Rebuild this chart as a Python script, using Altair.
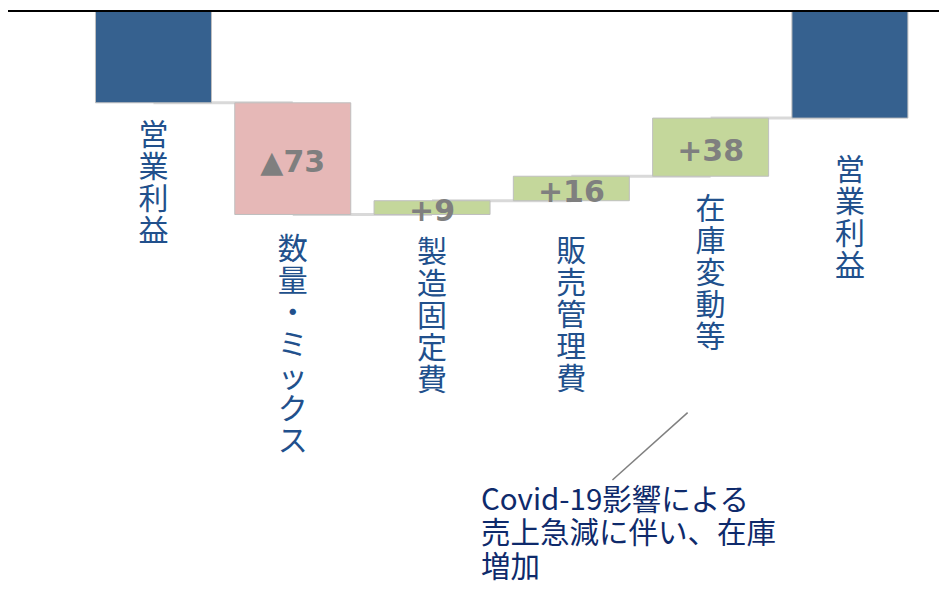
import altair as alt
import pandas as pd

# ---- data ----
categories = ["営業利益", "数量・ミックス", "製造固定費", "販売管理費", "在庫変動等", "営業利益"]
kinds = ["total", "delta", "delta", "delta", "delta", "total"]
values = [-60, -73, 9, 16, 38, -70]
value_labels = ["", "▲73", "+9", "+16", "+38", ""]

note_lines = ["Covid-19影響による", "売上急減に伴い、在庫", "増加"]
note_text_pos = [2.351, -311.1]            # x (category index units), y (value units)
note_line_x = [3.835, 3.295]
note_line_y = [-262.5, -306.5]

# ---- styling ----
BLUE = "#36618F"
PINK = "#E6B8B7"
GREEN = "#C4D79B"
LABEL_COLOR = "#21508C"
NOTE_COLOR = "#0E2A6B"
label_dy = [18, 21, 24, 36, 19, 38]

# ---- build table ----
rows = []
level = 0
for i, (c, k, v, lab) in enumerate(zip(categories, kinds, values, value_labels)):
    if k == "total":
        start, end = 0, v
        color = BLUE
    else:
        start, end = level, level + v
        color = PINK if v < 0 else GREEN
    level = end
    rows.append(dict(idx=i, cat="\n".join(c), start=start, end=end,
                     low=min(start, end), mid=(start + end) / 2,
                     color=color, vlabel=lab,
                     nxt=i + 1 if i < len(categories) - 1 else None))
df = pd.DataFrame(rows)
conn = df[df["nxt"].notna()].copy()

xs = alt.Scale(domain=[-1.0085, 5.6037], nice=False, zero=False)
ys = alt.Scale(domain=[-374.5, 1.96], nice=False, zero=False)

base = alt.Chart(df)

connectors = alt.Chart(conn).mark_rule(color="#D9D9D9", strokeWidth=3).encode(
    x=alt.X("idx:Q", scale=xs, axis=None),
    x2="nxt:Q",
    y=alt.Y("end:Q", scale=ys, axis=None),
)

bars = base.mark_bar(width=116, stroke="#BFBFBF", strokeWidth=1).encode(
    x=alt.X("idx:Q", scale=xs, axis=None),
    y=alt.Y("start:Q", scale=ys, axis=None),
    y2="end:Q",
    color=alt.Color("color:N", scale=None, legend=None),
)

vals = base.mark_text(font="DejaVu Sans", fontWeight="bold", fontSize=30,
                      color="#7F7F7F", baseline="middle", dy=4.5).encode(
    x=alt.X("idx:Q", scale=xs, axis=None),
    y=alt.Y("mid:Q", scale=ys, axis=None),
    text="vlabel:N",
)

labels = []
for i in range(len(categories)):
    labels.append(
        base.transform_filter(alt.datum.idx == i).mark_text(
            font="Noto Sans CJK JP", fontSize=30, lineHeight=32, lineBreak="\n",
            color=LABEL_COLOR, baseline="top", align="center", dy=label_dy[i]
        ).encode(
            x=alt.X("idx:Q", scale=xs, axis=None),
            y=alt.Y("low:Q", scale=ys, axis=None),
            text="cat:N",
        )
    )

note_df = pd.DataFrame({"x": [note_text_pos[0]], "y": [note_text_pos[1]],
                        "t": ["\n".join(note_lines)]})
note = alt.Chart(note_df).mark_text(
    font="Noto Sans CJK JP", fontSize=29.5, lineHeight=33.5, lineBreak="\n",
    color=NOTE_COLOR, baseline="top", align="left"
).encode(
    x=alt.X("x:Q", scale=xs, axis=None),
    y=alt.Y("y:Q", scale=ys, axis=None),
    text="t:N",
)

pointer_df = pd.DataFrame({"x": [note_line_x[0]], "x2": [note_line_x[1]],
                           "y": [note_line_y[0]], "y2": [note_line_y[1]]})
pointer = alt.Chart(pointer_df).mark_rule(color="#808080", strokeWidth=1.5).encode(
    x=alt.X("x:Q", scale=xs, axis=None), x2="x2:Q",
    y=alt.Y("y:Q", scale=ys, axis=None), y2="y2:Q",
)

zero_df = pd.DataFrame({"z": [0]})
zero_line = alt.Chart(zero_df).mark_rule(color="#000000", strokeWidth=2).encode(
    y=alt.Y("z:Q", scale=ys, axis=None),
)

chart = alt.layer(connectors, bars, vals, *labels, pointer, note, zero_line).properties(
    width=931, height=576,
    autosize=alt.AutoSizeParams(type="none"),
    padding=0,
    background="white",
).configure_view(strokeWidth=0)

chart.save("out.html", embed_options={"renderer": "svg", "actions": False})
